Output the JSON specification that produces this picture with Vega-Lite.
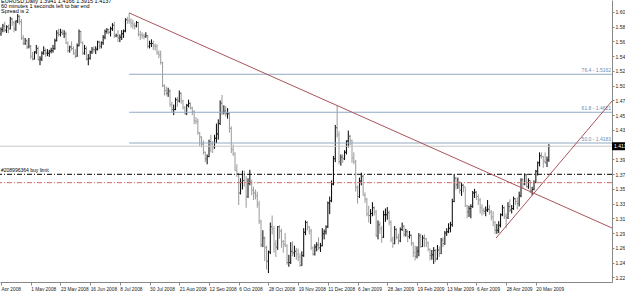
{
"$schema": "https://vega.github.io/schema/vega-lite/v6.json",
"width": 612, "height": 282,
"autosize": {"type": "none"},
"padding": {"left": 0, "top": 0, "right": 13, "bottom": 9},
"background": "white",
"config": {"view": {"stroke": null}, "font": "Liberation Sans", "axis": {"labelOverlap": false, "labelBound": false, "labelFlush": false}},
"title": {"text": ["EURUSD,Daily  1.3941 1.4166 1.3915 1.4137", "60 minutes 1 seconds left to bar end", "Spread is 2"], "anchor": "start", "frame": "group", "orient": "top", "baseline": "top", "offset": -14.5, "fontSize": 5.5, "lineHeight": 5.2, "fontWeight": "normal", "font": "Liberation Sans", "color": "#000", "dx": 1},
"datasets": {
"bars": [
{"i":0,"o":1.5740,"h":1.5830,"l":1.5710,"c":1.5800},
{"i":1,"o":1.5800,"h":1.5880,"l":1.5760,"c":1.5850},
{"i":2,"o":1.5850,"h":1.5910,"l":1.5760,"c":1.5800},
{"i":3,"o":1.5790,"h":1.5860,"l":1.5750,"c":1.5840},
{"i":4,"o":1.5840,"h":1.5870,"l":1.5750,"c":1.5810},
{"i":5,"o":1.5810,"h":1.5980,"l":1.5800,"c":1.5950},
{"i":6,"o":1.5950,"h":1.5970,"l":1.5850,"c":1.5900},
{"i":7,"o":1.5900,"h":1.5920,"l":1.5760,"c":1.5810},
{"i":8,"o":1.5810,"h":1.5930,"l":1.5780,"c":1.5920},
{"i":9,"o":1.5920,"h":1.6019,"l":1.5890,"c":1.5990},
{"i":10,"o":1.5990,"h":1.6000,"l":1.5870,"c":1.5910},
{"i":11,"o":1.5910,"h":1.5950,"l":1.5650,"c":1.5680},
{"i":12,"o":1.5680,"h":1.5720,"l":1.5580,"c":1.5600},
{"i":13,"o":1.5600,"h":1.5680,"l":1.5580,"c":1.5640},
{"i":14,"o":1.5640,"h":1.5660,"l":1.5520,"c":1.5550},
{"i":15,"o":1.5550,"h":1.5680,"l":1.5530,"c":1.5560},
{"i":16,"o":1.5560,"h":1.5580,"l":1.5380,"c":1.5420},
{"i":17,"o":1.5420,"h":1.5480,"l":1.5360,"c":1.5380},
{"i":18,"o":1.5380,"h":1.5490,"l":1.5370,"c":1.5480},
{"i":19,"o":1.5480,"h":1.5580,"l":1.5450,"c":1.5530},
{"i":20,"o":1.5530,"h":1.5560,"l":1.5360,"c":1.5370},
{"i":21,"o":1.5370,"h":1.5420,"l":1.5290,"c":1.5380},
{"i":22,"o":1.5380,"h":1.5490,"l":1.5350,"c":1.5460},
{"i":23,"o":1.5460,"h":1.5560,"l":1.5440,"c":1.5500},
{"i":24,"o":1.5500,"h":1.5530,"l":1.5410,"c":1.5460},
{"i":25,"o":1.5460,"h":1.5520,"l":1.5420,"c":1.5460},
{"i":26,"o":1.5460,"h":1.5510,"l":1.5410,"c":1.5490},
{"i":27,"o":1.5490,"h":1.5540,"l":1.5460,"c":1.5500},
{"i":28,"o":1.5500,"h":1.5580,"l":1.5470,"c":1.5530},
{"i":29,"o":1.5530,"h":1.5670,"l":1.5510,"c":1.5640},
{"i":30,"o":1.5640,"h":1.5790,"l":1.5630,"c":1.5750},
{"i":31,"o":1.5750,"h":1.5810,"l":1.5700,"c":1.5730},
{"i":32,"o":1.5730,"h":1.5810,"l":1.5700,"c":1.5760},
{"i":33,"o":1.5760,"h":1.5800,"l":1.5720,"c":1.5740},
{"i":34,"o":1.5740,"h":1.5790,"l":1.5680,"c":1.5740},
{"i":35,"o":1.5740,"h":1.5770,"l":1.5590,"c":1.5610},
{"i":36,"o":1.5610,"h":1.5630,"l":1.5470,"c":1.5500},
{"i":37,"o":1.5500,"h":1.5570,"l":1.5470,"c":1.5550},
{"i":38,"o":1.5550,"h":1.5630,"l":1.5500,"c":1.5530},
{"i":39,"o":1.5530,"h":1.5560,"l":1.5440,"c":1.5460},
{"i":40,"o":1.5460,"h":1.5520,"l":1.5390,"c":1.5420},
{"i":41,"o":1.5420,"h":1.5600,"l":1.5410,"c":1.5570},
{"i":42,"o":1.5570,"h":1.5800,"l":1.5560,"c":1.5770},
{"i":43,"o":1.5770,"h":1.5780,"l":1.5600,"c":1.5610},
{"i":44,"o":1.5610,"h":1.5630,"l":1.5440,"c":1.5460},
{"i":45,"o":1.5460,"h":1.5580,"l":1.5440,"c":1.5530},
{"i":46,"o":1.5530,"h":1.5560,"l":1.5360,"c":1.5380},
{"i":47,"o":1.5380,"h":1.5450,"l":1.5290,"c":1.5390},
{"i":48,"o":1.5390,"h":1.5500,"l":1.5370,"c":1.5480},
{"i":49,"o":1.5480,"h":1.5550,"l":1.5450,"c":1.5520},
{"i":50,"o":1.5520,"h":1.5560,"l":1.5470,"c":1.5510},
{"i":51,"o":1.5510,"h":1.5560,"l":1.5450,"c":1.5520},
{"i":52,"o":1.5520,"h":1.5640,"l":1.5500,"c":1.5620},
{"i":53,"o":1.5620,"h":1.5640,"l":1.5520,"c":1.5560},
{"i":54,"o":1.5560,"h":1.5630,"l":1.5530,"c":1.5610},
{"i":55,"o":1.5610,"h":1.5720,"l":1.5580,"c":1.5690},
{"i":56,"o":1.5690,"h":1.5800,"l":1.5660,"c":1.5770},
{"i":57,"o":1.5770,"h":1.5820,"l":1.5740,"c":1.5800},
{"i":58,"o":1.5800,"h":1.5810,"l":1.5730,"c":1.5760},
{"i":59,"o":1.5760,"h":1.5840,"l":1.5700,"c":1.5810},
{"i":60,"o":1.5810,"h":1.5890,"l":1.5780,"c":1.5860},
{"i":61,"o":1.5860,"h":1.5910,"l":1.5680,"c":1.5710},
{"i":62,"o":1.5710,"h":1.5740,"l":1.5690,"c":1.5710},
{"i":63,"o":1.5710,"h":1.5790,"l":1.5620,"c":1.5680},
{"i":64,"o":1.5680,"h":1.5730,"l":1.5620,"c":1.5690},
{"i":65,"o":1.5690,"h":1.5790,"l":1.5650,"c":1.5740},
{"i":66,"o":1.5740,"h":1.5800,"l":1.5680,"c":1.5780},
{"i":67,"o":1.5780,"h":1.5960,"l":1.5760,"c":1.5940},
{"i":68,"o":1.5940,"h":1.5980,"l":1.5880,"c":1.5930},
{"i":69,"o":1.5930,"h":1.6036,"l":1.5880,"c":1.5920},
{"i":70,"o":1.5920,"h":1.5960,"l":1.5830,"c":1.5890},
{"i":71,"o":1.5890,"h":1.5940,"l":1.5810,"c":1.5860},
{"i":72,"o":1.5860,"h":1.5900,"l":1.5800,"c":1.5850},
{"i":73,"o":1.5850,"h":1.5920,"l":1.5830,"c":1.5900},
{"i":74,"o":1.5900,"h":1.5910,"l":1.5700,"c":1.5730},
{"i":75,"o":1.5730,"h":1.5780,"l":1.5650,"c":1.5720},
{"i":76,"o":1.5720,"h":1.5760,"l":1.5670,"c":1.5710},
{"i":77,"o":1.5710,"h":1.5740,"l":1.5660,"c":1.5700},
{"i":78,"o":1.5700,"h":1.5760,"l":1.5680,"c":1.5710},
{"i":79,"o":1.5710,"h":1.5720,"l":1.5530,"c":1.5560},
{"i":80,"o":1.5560,"h":1.5640,"l":1.5530,"c":1.5600},
{"i":81,"o":1.5600,"h":1.5660,"l":1.5550,"c":1.5600},
{"i":82,"o":1.5600,"h":1.5640,"l":1.5510,"c":1.5570},
{"i":83,"o":1.5570,"h":1.5600,"l":1.5500,"c":1.5560},
{"i":84,"o":1.5560,"h":1.5590,"l":1.5440,"c":1.5470},
{"i":85,"o":1.5470,"h":1.5500,"l":1.5390,"c":1.5440},
{"i":86,"o":1.5440,"h":1.5500,"l":1.5300,"c":1.5330},
{"i":87,"o":1.5330,"h":1.5340,"l":1.4980,"c":1.5000},
{"i":88,"o":1.5000,"h":1.5020,"l":1.4860,"c":1.4930},
{"i":89,"o":1.4930,"h":1.4990,"l":1.4860,"c":1.4890},
{"i":90,"o":1.4890,"h":1.4970,"l":1.4840,"c":1.4920},
{"i":91,"o":1.4920,"h":1.4950,"l":1.4700,"c":1.4730},
{"i":92,"o":1.4730,"h":1.4770,"l":1.4620,"c":1.4660},
{"i":93,"o":1.4660,"h":1.4730,"l":1.4580,"c":1.4660},
{"i":94,"o":1.4660,"h":1.4830,"l":1.4650,"c":1.4800},
{"i":95,"o":1.4800,"h":1.4840,"l":1.4700,"c":1.4780},
{"i":96,"o":1.4780,"h":1.4930,"l":1.4760,"c":1.4890},
{"i":97,"o":1.4890,"h":1.4900,"l":1.4740,"c":1.4780},
{"i":98,"o":1.4780,"h":1.4800,"l":1.4660,"c":1.4690},
{"i":99,"o":1.4690,"h":1.4710,"l":1.4590,"c":1.4600},
{"i":100,"o":1.4600,"h":1.4740,"l":1.4580,"c":1.4720},
{"i":101,"o":1.4720,"h":1.4800,"l":1.4690,"c":1.4750},
{"i":102,"o":1.4750,"h":1.4760,"l":1.4660,"c":1.4680},
{"i":103,"o":1.4680,"h":1.4700,"l":1.4580,"c":1.4630},
{"i":104,"o":1.4630,"h":1.4650,"l":1.4450,"c":1.4500},
{"i":105,"o":1.4500,"h":1.4550,"l":1.4450,"c":1.4490},
{"i":106,"o":1.4490,"h":1.4530,"l":1.4300,"c":1.4330},
{"i":107,"o":1.4330,"h":1.4340,"l":1.4140,"c":1.4270},
{"i":108,"o":1.4270,"h":1.4280,"l":1.4120,"c":1.4170},
{"i":109,"o":1.4170,"h":1.4220,"l":1.4020,"c":1.4050},
{"i":110,"o":1.4050,"h":1.4060,"l":1.3910,"c":1.3960},
{"i":111,"o":1.3960,"h":1.4020,"l":1.3880,"c":1.3990},
{"i":112,"o":1.3990,"h":1.4230,"l":1.3980,"c":1.4200},
{"i":113,"o":1.4200,"h":1.4300,"l":1.4050,"c":1.4170},
{"i":114,"o":1.4170,"h":1.4210,"l":1.4040,"c":1.4130},
{"i":115,"o":1.4130,"h":1.4300,"l":1.4100,"c":1.4250},
{"i":116,"o":1.4250,"h":1.4460,"l":1.4180,"c":1.4310},
{"i":117,"o":1.4310,"h":1.4520,"l":1.4230,"c":1.4460},
{"i":118,"o":1.4460,"h":1.4790,"l":1.4440,"c":1.4750},
{"i":119,"o":1.4750,"h":1.4867,"l":1.4580,"c":1.4620},
{"i":120,"o":1.4620,"h":1.4720,"l":1.4590,"c":1.4640},
{"i":121,"o":1.4640,"h":1.4710,"l":1.4560,"c":1.4600},
{"i":122,"o":1.4600,"h":1.4680,"l":1.4530,"c":1.4600},
{"i":123,"o":1.4600,"h":1.4620,"l":1.4330,"c":1.4390},
{"i":124,"o":1.4390,"h":1.4420,"l":1.4040,"c":1.4090},
{"i":125,"o":1.4090,"h":1.4160,"l":1.4000,"c":1.4030},
{"i":126,"o":1.4030,"h":1.4050,"l":1.3780,"c":1.3790},
{"i":127,"o":1.3790,"h":1.3880,"l":1.3700,"c":1.3750},
{"i":128,"o":1.3750,"h":1.3760,"l":1.3300,"c":1.3470},
{"i":129,"o":1.3470,"h":1.3680,"l":1.3450,"c":1.3620},
{"i":130,"o":1.3620,"h":1.3790,"l":1.3520,"c":1.3650},
{"i":131,"o":1.3650,"h":1.3790,"l":1.3560,"c":1.3620},
{"i":132,"o":1.3620,"h":1.3710,"l":1.3260,"c":1.3420},
{"i":133,"o":1.3420,"h":1.3680,"l":1.3400,"c":1.3610},
{"i":134,"o":1.3610,"h":1.3800,"l":1.3580,"c":1.3620},
{"i":135,"o":1.3620,"h":1.3660,"l":1.3440,"c":1.3510},
{"i":136,"o":1.3510,"h":1.3560,"l":1.3370,"c":1.3470},
{"i":137,"o":1.3470,"h":1.3520,"l":1.3380,"c":1.3430},
{"i":138,"o":1.3430,"h":1.3490,"l":1.3260,"c":1.3310},
{"i":139,"o":1.3310,"h":1.3360,"l":1.3030,"c":1.3070},
{"i":140,"o":1.3070,"h":1.3090,"l":1.2700,"c":1.2730},
{"i":141,"o":1.2730,"h":1.2940,"l":1.2700,"c":1.2830},
{"i":142,"o":1.2830,"h":1.2850,"l":1.2500,"c":1.2690},
{"i":143,"o":1.2690,"h":1.2720,"l":1.2380,"c":1.2500},
{"i":144,"o":1.2500,"h":1.2650,"l":1.2330,"c":1.2630},
{"i":145,"o":1.2630,"h":1.3050,"l":1.2600,"c":1.2990},
{"i":146,"o":1.2990,"h":1.3150,"l":1.2880,"c":1.2960},
{"i":147,"o":1.2960,"h":1.3000,"l":1.2620,"c":1.2740},
{"i":148,"o":1.2740,"h":1.2800,"l":1.2560,"c":1.2700},
{"i":149,"o":1.2700,"h":1.3000,"l":1.2660,"c":1.2990},
{"i":150,"o":1.2990,"h":1.3010,"l":1.2820,"c":1.2930},
{"i":151,"o":1.2930,"h":1.2960,"l":1.2690,"c":1.2780},
{"i":152,"o":1.2780,"h":1.2800,"l":1.2620,"c":1.2740},
{"i":153,"o":1.2740,"h":1.2900,"l":1.2700,"c":1.2720},
{"i":154,"o":1.2720,"h":1.2740,"l":1.2450,"c":1.2480},
{"i":155,"o":1.2480,"h":1.2590,"l":1.2420,"c":1.2480},
{"i":156,"o":1.2480,"h":1.2770,"l":1.2460,"c":1.2640},
{"i":157,"o":1.2640,"h":1.2780,"l":1.2570,"c":1.2620},
{"i":158,"o":1.2620,"h":1.2720,"l":1.2560,"c":1.2640},
{"i":159,"o":1.2640,"h":1.2690,"l":1.2520,"c":1.2600},
{"i":160,"o":1.2600,"h":1.2680,"l":1.2500,"c":1.2560},
{"i":161,"o":1.2560,"h":1.2610,"l":1.2420,"c":1.2440},
{"i":162,"o":1.2440,"h":1.2640,"l":1.2430,"c":1.2580},
{"i":163,"o":1.2580,"h":1.2970,"l":1.2560,"c":1.2910},
{"i":164,"o":1.2910,"h":1.3080,"l":1.2870,"c":1.3050},
{"i":165,"o":1.3050,"h":1.3070,"l":1.2940,"c":1.2990},
{"i":166,"o":1.2990,"h":1.3000,"l":1.2880,"c":1.2930},
{"i":167,"o":1.2930,"h":1.2960,"l":1.2660,"c":1.2690},
{"i":168,"o":1.2690,"h":1.2710,"l":1.2580,"c":1.2600},
{"i":169,"o":1.2600,"h":1.2740,"l":1.2580,"c":1.2700},
{"i":170,"o":1.2700,"h":1.2770,"l":1.2640,"c":1.2730},
{"i":171,"o":1.2730,"h":1.2840,"l":1.2660,"c":1.2690},
{"i":172,"o":1.2690,"h":1.2760,"l":1.2630,"c":1.2720},
{"i":173,"o":1.2720,"h":1.2970,"l":1.2710,"c":1.2890},
{"i":174,"o":1.2890,"h":1.2950,"l":1.2810,"c":1.2920},
{"i":175,"o":1.2920,"h":1.3010,"l":1.2880,"c":1.2990},
{"i":176,"o":1.2990,"h":1.3350,"l":1.2970,"c":1.3330},
{"i":177,"o":1.3330,"h":1.3420,"l":1.3170,"c":1.3360},
{"i":178,"o":1.3360,"h":1.3650,"l":1.3340,"c":1.3600},
{"i":179,"o":1.3600,"h":1.4000,"l":1.3580,"c":1.3960},
{"i":180,"o":1.3960,"h":1.4440,"l":1.3910,"c":1.4400},
{"i":181,"o":1.4400,"h":1.4720,"l":1.4260,"c":1.4300},
{"i":182,"o":1.4300,"h":1.4350,"l":1.3880,"c":1.3920},
{"i":183,"o":1.3920,"h":1.4020,"l":1.3860,"c":1.3980},
{"i":184,"o":1.3980,"h":1.4020,"l":1.3900,"c":1.3960},
{"i":185,"o":1.3960,"h":1.4080,"l":1.3940,"c":1.4050},
{"i":186,"o":1.4050,"h":1.4220,"l":1.4020,"c":1.4210},
{"i":187,"o":1.4210,"h":1.4360,"l":1.4120,"c":1.4280},
{"i":188,"o":1.4280,"h":1.4300,"l":1.4150,"c":1.4220},
{"i":189,"o":1.4220,"h":1.4230,"l":1.3900,"c":1.3970},
{"i":190,"o":1.3970,"h":1.4050,"l":1.3880,"c":1.3920},
{"i":191,"o":1.3920,"h":1.3940,"l":1.3490,"c":1.3550},
{"i":192,"o":1.3550,"h":1.3580,"l":1.3320,"c":1.3420},
{"i":193,"o":1.3420,"h":1.3690,"l":1.3400,"c":1.3640},
{"i":194,"o":1.3640,"h":1.3760,"l":1.3580,"c":1.3710},
{"i":195,"o":1.3710,"h":1.3730,"l":1.3430,"c":1.3440},
{"i":196,"o":1.3440,"h":1.3480,"l":1.3330,"c":1.3380},
{"i":197,"o":1.3380,"h":1.3400,"l":1.3140,"c":1.3170},
{"i":198,"o":1.3170,"h":1.3290,"l":1.3050,"c":1.3150},
{"i":199,"o":1.3150,"h":1.3240,"l":1.3030,"c":1.3180},
{"i":200,"o":1.3180,"h":1.3340,"l":1.3140,"c":1.3260},
{"i":201,"o":1.3260,"h":1.3280,"l":1.3150,"c":1.3200},
{"i":202,"o":1.3200,"h":1.3230,"l":1.2850,"c":1.2860},
{"i":203,"o":1.2860,"h":1.3080,"l":1.2810,"c":1.3020},
{"i":204,"o":1.3020,"h":1.3060,"l":1.2890,"c":1.2960},
{"i":205,"o":1.2960,"h":1.3000,"l":1.2760,"c":1.2840},
{"i":206,"o":1.2840,"h":1.3220,"l":1.2830,"c":1.3160},
{"i":207,"o":1.3160,"h":1.3250,"l":1.3060,"c":1.3160},
{"i":208,"o":1.3160,"h":1.3270,"l":1.3090,"c":1.3190},
{"i":209,"o":1.3190,"h":1.3220,"l":1.3010,"c":1.3050},
{"i":210,"o":1.3050,"h":1.3080,"l":1.2770,"c":1.2800},
{"i":211,"o":1.2800,"h":1.2850,"l":1.2690,"c":1.2750},
{"i":212,"o":1.2750,"h":1.3000,"l":1.2740,"c":1.2950},
{"i":213,"o":1.2950,"h":1.2970,"l":1.2810,"c":1.2840},
{"i":214,"o":1.2840,"h":1.2890,"l":1.2740,"c":1.2790},
{"i":215,"o":1.2790,"h":1.2980,"l":1.2770,"c":1.2950},
{"i":216,"o":1.2950,"h":1.3050,"l":1.2930,"c":1.3000},
{"i":217,"o":1.3000,"h":1.3010,"l":1.2850,"c":1.2880},
{"i":218,"o":1.2880,"h":1.2960,"l":1.2850,"c":1.2920},
{"i":219,"o":1.2920,"h":1.2940,"l":1.2770,"c":1.2850},
{"i":220,"o":1.2850,"h":1.2930,"l":1.2820,"c":1.2870},
{"i":221,"o":1.2870,"h":1.2880,"l":1.2720,"c":1.2760},
{"i":222,"o":1.2760,"h":1.2770,"l":1.2560,"c":1.2620},
{"i":223,"o":1.2620,"h":1.2720,"l":1.2510,"c":1.2570},
{"i":224,"o":1.2570,"h":1.2710,"l":1.2540,"c":1.2640},
{"i":225,"o":1.2640,"h":1.2900,"l":1.2570,"c":1.2860},
{"i":226,"o":1.2860,"h":1.2890,"l":1.2690,"c":1.2710},
{"i":227,"o":1.2710,"h":1.2870,"l":1.2700,"c":1.2830},
{"i":228,"o":1.2830,"h":1.2880,"l":1.2700,"c":1.2820},
{"i":229,"o":1.2820,"h":1.2830,"l":1.2700,"c":1.2760},
{"i":230,"o":1.2760,"h":1.2780,"l":1.2640,"c":1.2670},
{"i":231,"o":1.2670,"h":1.2680,"l":1.2510,"c":1.2580},
{"i":232,"o":1.2580,"h":1.2660,"l":1.2520,"c":1.2590},
{"i":233,"o":1.2590,"h":1.2700,"l":1.2460,"c":1.2650},
{"i":234,"o":1.2650,"h":1.2670,"l":1.2490,"c":1.2530},
{"i":235,"o":1.2530,"h":1.2730,"l":1.2520,"c":1.2660},
{"i":236,"o":1.2660,"h":1.2710,"l":1.2560,"c":1.2610},
{"i":237,"o":1.2610,"h":1.2830,"l":1.2600,"c":1.2800},
{"i":238,"o":1.2800,"h":1.2840,"l":1.2700,"c":1.2750},
{"i":239,"o":1.2750,"h":1.2930,"l":1.2730,"c":1.2900},
{"i":240,"o":1.2900,"h":1.2970,"l":1.2860,"c":1.2920},
{"i":241,"o":1.2920,"h":1.3040,"l":1.2900,"c":1.2970},
{"i":242,"o":1.2970,"h":1.3060,"l":1.2910,"c":1.3020},
{"i":243,"o":1.3020,"h":1.3390,"l":1.2990,"c":1.3350},
{"i":244,"o":1.3350,"h":1.3738,"l":1.3340,"c":1.3680},
{"i":245,"o":1.3680,"h":1.3700,"l":1.3520,"c":1.3590},
{"i":246,"o":1.3590,"h":1.3690,"l":1.3530,"c":1.3620},
{"i":247,"o":1.3620,"h":1.3640,"l":1.3460,"c":1.3510},
{"i":248,"o":1.3510,"h":1.3620,"l":1.3430,"c":1.3580},
{"i":249,"o":1.3580,"h":1.3600,"l":1.3480,"c":1.3560},
{"i":250,"o":1.3560,"h":1.3560,"l":1.3270,"c":1.3290},
{"i":251,"o":1.3290,"h":1.3300,"l":1.3110,"c":1.3200},
{"i":252,"o":1.3200,"h":1.3290,"l":1.3130,"c":1.3250},
{"i":253,"o":1.3250,"h":1.3310,"l":1.3110,"c":1.3280},
{"i":254,"o":1.3280,"h":1.3500,"l":1.3260,"c":1.3470},
{"i":255,"o":1.3470,"h":1.3530,"l":1.3400,"c":1.3480},
{"i":256,"o":1.3480,"h":1.3500,"l":1.3370,"c":1.3420},
{"i":257,"o":1.3420,"h":1.3450,"l":1.3300,"c":1.3370},
{"i":258,"o":1.3370,"h":1.3400,"l":1.3180,"c":1.3260},
{"i":259,"o":1.3260,"h":1.3310,"l":1.3150,"c":1.3220},
{"i":260,"o":1.3220,"h":1.3260,"l":1.3170,"c":1.3210},
{"i":261,"o":1.3210,"h":1.3280,"l":1.3140,"c":1.3230},
{"i":262,"o":1.3230,"h":1.3370,"l":1.3200,"c":1.3240},
{"i":263,"o":1.3240,"h":1.3300,"l":1.3160,"c":1.3200},
{"i":264,"o":1.3200,"h":1.3230,"l":1.3080,"c":1.3130},
{"i":265,"o":1.3130,"h":1.3210,"l":1.3000,"c":1.3050},
{"i":266,"o":1.3050,"h":1.3070,"l":1.2887,"c":1.2940},
{"i":267,"o":1.2940,"h":1.3030,"l":1.2890,"c":1.2940},
{"i":268,"o":1.2940,"h":1.3070,"l":1.2900,"c":1.3010},
{"i":269,"o":1.3010,"h":1.3180,"l":1.2980,"c":1.3160},
{"i":270,"o":1.3160,"h":1.3300,"l":1.3140,"c":1.3260},
{"i":271,"o":1.3260,"h":1.3280,"l":1.3100,"c":1.3140},
{"i":272,"o":1.3140,"h":1.3180,"l":1.2970,"c":1.3120},
{"i":273,"o":1.3120,"h":1.3340,"l":1.3100,"c":1.3280},
{"i":274,"o":1.3280,"h":1.3380,"l":1.3200,"c":1.3230},
{"i":275,"o":1.3230,"h":1.3300,"l":1.3180,"c":1.3250},
{"i":276,"o":1.3250,"h":1.3420,"l":1.3230,"c":1.3390},
{"i":277,"o":1.3390,"h":1.3400,"l":1.3300,"c":1.3350},
{"i":278,"o":1.3350,"h":1.3410,"l":1.3240,"c":1.3320},
{"i":279,"o":1.3320,"h":1.3490,"l":1.3280,"c":1.3430},
{"i":280,"o":1.3430,"h":1.3680,"l":1.3410,"c":1.3660},
{"i":281,"o":1.3660,"h":1.3680,"l":1.3530,"c":1.3600},
{"i":282,"o":1.3600,"h":1.3750,"l":1.3580,"c":1.3730},
{"i":283,"o":1.3730,"h":1.3740,"l":1.3550,"c":1.3560},
{"i":284,"o":1.3560,"h":1.3680,"l":1.3530,"c":1.3650},
{"i":285,"o":1.3650,"h":1.3650,"l":1.3470,"c":1.3500},
{"i":286,"o":1.3500,"h":1.3560,"l":1.3440,"c":1.3520},
{"i":287,"o":1.3520,"h":1.3650,"l":1.3510,"c":1.3620},
{"i":288,"o":1.3620,"h":1.3800,"l":1.3610,"c":1.3780},
{"i":289,"o":1.3780,"h":1.3920,"l":1.3720,"c":1.3900},
{"i":290,"o":1.3900,"h":1.4050,"l":1.3850,"c":1.4000},
{"i":291,"o":1.4000,"h":1.4050,"l":1.3960,"c":1.3990},
{"i":292,"o":1.3990,"h":1.4000,"l":1.3830,"c":1.3920},
{"i":293,"o":1.3920,"h":1.4050,"l":1.3890,"c":1.3900},
{"i":294,"o":1.3900,"h":1.3990,"l":1.3840,"c":1.3940},
{"i":295,"o":1.3941,"h":1.4166,"l":1.3915,"c":1.4137}
],
"fibs": [
{"lv":1.5162,"t":"76.4 - 1.5162"},
{"lv":1.4621,"t":"61.8 - 1.4621"},
{"lv":1.4183,"t":"50.0 - 1.4183"}
],
"trends": [
{"x1":69,"p1":1.6036,"x2":329,"p2":1.2972},
{"x1":266.6,"p1":1.2830,"x2":329,"p2":1.4781}
],
"one": [{}]
},
"layer": [
{"data": {"name": "bars"},
 "mark": {"type": "rule", "strokeWidth": 1},
 "encoding": {
  "x": {"field": "i", "type": "quantitative", "scale": {"domain": [-0.54, 329], "nice": false, "zero": false},
   "axis": {"values": [0,16,32,48,64,80,96,112,128,144,160,176,192,208,224,240,256,272,288], "tickCount": 200,
    "labelExpr": "['Apr 2008','1 May 2008','23 May 2008','16 Jun 2008','8 Jul 2008','30 Jul 2008','21 Aug 2008','12 Sep 2008','6 Oct 2008','28 Oct 2008','19 Nov 2008','11 Dec 2008','6 Jan 2009','28 Jan 2009','19 Feb 2009','13 Mar 2009','6 Apr 2009','28 Apr 2009','20 May 2009'][round(datum.value/16)]",
    "labelAlign": "left", "labelPadding": 1, "labelFontSize": 4.8, "labelColor": "#222", "labelFont": "Liberation Sans",
    "tickSize": 3, "tickColor": "#888", "domainColor": "#888", "grid": false, "title": null,
    "labelOverlap": false, "labelFlush": false, "labelBound": false}},
  "y": {"field": "l", "type": "quantitative", "scale": {"domain": [1.2203, 1.6220], "nice": false, "zero": false},
   "axis": {"orient": "right", "values": [1.605,1.584,1.563,1.542,1.521,1.500,1.479,1.458,1.437,1.395,1.374,1.353,1.332,1.311,1.290,1.269,1.248,1.227], "tickCount": 200,
    "format": ".4f", "labelFontSize": 5, "labelColor": "#222", "labelFont": "Liberation Sans", "labelPadding": 1,
    "tickSize": 2, "tickColor": "#888", "domainColor": "#888", "grid": false, "title": null, "labelOverlap": false, "labelBound": false}},
  "y2": {"field": "h"},
  "color": {"condition": {"test": "datum.c >= datum.o", "value": "#000000"}, "value": "#999999"}
 }},
{"data": {"name": "bars"},
 "mark": {"type": "tick", "orient": "horizontal", "size": 1, "thickness": 1, "xOffset": -1},
 "encoding": {
  "x": {"field": "i", "type": "quantitative"},
  "y": {"field": "o", "type": "quantitative"},
  "color": {"condition": {"test": "datum.c >= datum.o", "value": "#000000"}, "value": "#999999"}
 }},
{"data": {"name": "bars"},
 "mark": {"type": "tick", "orient": "horizontal", "size": 1, "thickness": 1, "xOffset": 1},
 "encoding": {
  "x": {"field": "i", "type": "quantitative"},
  "y": {"field": "c", "type": "quantitative"},
  "color": {"condition": {"test": "datum.c >= datum.o", "value": "#000000"}, "value": "#999999"}
 }},
{"data": {"name": "one"},
 "mark": {"type": "rule", "color": "#c8c8c8", "strokeWidth": 1},
 "encoding": {"y": {"datum": 1.4137, "type": "quantitative"}}},
{"data": {"name": "fibs"},
 "mark": {"type": "rule", "color": "#93a9c4", "strokeWidth": 1},
 "encoding": {"x": {"datum": 69, "type": "quantitative"}, "x2": {"datum": 329}, "y": {"field": "lv", "type": "quantitative"}}},
{"data": {"name": "fibs"},
 "mark": {"type": "text", "align": "right", "baseline": "bottom", "dy": -1, "fontSize": 5, "color": "#6f8db0", "font": "Liberation Sans"},
 "encoding": {"x": {"datum": 328.5, "type": "quantitative"}, "y": {"field": "lv", "type": "quantitative"}, "text": {"field": "t"}}},
{"data": {"name": "one"},
 "mark": {"type": "rule", "color": "#000000", "strokeWidth": 1, "strokeDash": [5, 2, 1, 2]},
 "encoding": {"y": {"datum": 1.3737, "type": "quantitative"}}},
{"data": {"name": "one"},
 "mark": {"type": "rule", "color": "#d06a6a", "strokeWidth": 1, "strokeDash": [5, 2, 1, 2]},
 "encoding": {"y": {"datum": 1.3618, "type": "quantitative"}}},
{"data": {"name": "one"},
 "mark": {"type": "text", "align": "left", "baseline": "bottom", "dx": 1, "dy": -1, "fontSize": 5, "color": "#000", "font": "Liberation Sans", "text": "#208996364 buy limit"},
 "encoding": {"x": {"datum": -0.54, "type": "quantitative"}, "y": {"datum": 1.3737, "type": "quantitative"}}},
{"data": {"name": "trends"},
 "mark": {"type": "rule", "color": "#a9545c", "strokeWidth": 1},
 "encoding": {"x": {"field": "x1", "type": "quantitative"}, "x2": {"field": "x2"}, "y": {"field": "p1", "type": "quantitative"}, "y2": {"field": "p2"}}},
{"data": {"name": "one"},
 "mark": {"type": "rect", "color": "#000000"},
 "encoding": {"x": {"datum": 329, "type": "quantitative"}, "x2": {"datum": 337}, "y": {"datum": 1.4080, "type": "quantitative"}, "y2": {"datum": 1.4194}}},
{"data": {"name": "one"},
 "mark": {"type": "text", "align": "left", "baseline": "middle", "dx": 2, "fontSize": 5, "color": "#ffffff", "font": "Liberation Sans", "text": "1.4137"},
 "encoding": {"x": {"datum": 329, "type": "quantitative"}, "y": {"datum": 1.4137, "type": "quantitative"}}}
]
}
